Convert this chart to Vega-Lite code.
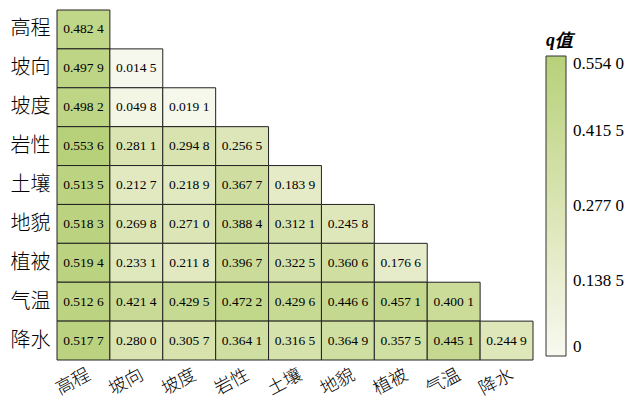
{
  "$schema": "https://vega.github.io/schema/vega-lite/v6.json",
  "autosize": {"type": "none"},
  "width": 476,
  "height": 350,
  "padding": {"left": 57, "top": 10, "right": 103, "bottom": 41},
  "background": "white",
  "view": {"stroke": null},
  "data": {
    "values": [
      {"row": "高程", "col": "高程", "q": 0.4824},
      {"row": "坡向", "col": "高程", "q": 0.4979},
      {"row": "坡向", "col": "坡向", "q": 0.0145},
      {"row": "坡度", "col": "高程", "q": 0.4982},
      {"row": "坡度", "col": "坡向", "q": 0.0498},
      {"row": "坡度", "col": "坡度", "q": 0.0191},
      {"row": "岩性", "col": "高程", "q": 0.5536},
      {"row": "岩性", "col": "坡向", "q": 0.2811},
      {"row": "岩性", "col": "坡度", "q": 0.2948},
      {"row": "岩性", "col": "岩性", "q": 0.2565},
      {"row": "土壤", "col": "高程", "q": 0.5135},
      {"row": "土壤", "col": "坡向", "q": 0.2127},
      {"row": "土壤", "col": "坡度", "q": 0.2189},
      {"row": "土壤", "col": "岩性", "q": 0.3677},
      {"row": "土壤", "col": "土壤", "q": 0.1839},
      {"row": "地貌", "col": "高程", "q": 0.5183},
      {"row": "地貌", "col": "坡向", "q": 0.2698},
      {"row": "地貌", "col": "坡度", "q": 0.2710},
      {"row": "地貌", "col": "岩性", "q": 0.3884},
      {"row": "地貌", "col": "土壤", "q": 0.3121},
      {"row": "地貌", "col": "地貌", "q": 0.2458},
      {"row": "植被", "col": "高程", "q": 0.5194},
      {"row": "植被", "col": "坡向", "q": 0.2331},
      {"row": "植被", "col": "坡度", "q": 0.2118},
      {"row": "植被", "col": "岩性", "q": 0.3967},
      {"row": "植被", "col": "土壤", "q": 0.3225},
      {"row": "植被", "col": "地貌", "q": 0.3606},
      {"row": "植被", "col": "植被", "q": 0.1766},
      {"row": "气温", "col": "高程", "q": 0.5126},
      {"row": "气温", "col": "坡向", "q": 0.4214},
      {"row": "气温", "col": "坡度", "q": 0.4295},
      {"row": "气温", "col": "岩性", "q": 0.4722},
      {"row": "气温", "col": "土壤", "q": 0.4296},
      {"row": "气温", "col": "地貌", "q": 0.4466},
      {"row": "气温", "col": "植被", "q": 0.4571},
      {"row": "气温", "col": "气温", "q": 0.4001},
      {"row": "降水", "col": "高程", "q": 0.5177},
      {"row": "降水", "col": "坡向", "q": 0.2800},
      {"row": "降水", "col": "坡度", "q": 0.3057},
      {"row": "降水", "col": "岩性", "q": 0.3641},
      {"row": "降水", "col": "土壤", "q": 0.3165},
      {"row": "降水", "col": "地貌", "q": 0.3649},
      {"row": "降水", "col": "植被", "q": 0.3575},
      {"row": "降水", "col": "气温", "q": 0.4451},
      {"row": "降水", "col": "降水", "q": 0.2449}
    ]
  },
  "transform": [
    {"calculate": "slice(format(datum.q, '.4f'), 0, 5) + ' ' + slice(format(datum.q, '.4f'), 5)", "as": "label"}
  ],
  "encoding": {
    "x": {
      "field": "col", "type": "nominal",
      "sort": ["高程", "坡向", "坡度", "岩性", "土壤", "地貌", "植被", "气温", "降水"],
      "scale": {"paddingInner": 0, "paddingOuter": 0},
      "axis": {
        "title": null, "domain": false, "ticks": false, "grid": false,
        "labelAngle": -28, "labelAlign": "center", "labelBaseline": "middle",
        "labelPadding": 22, "labelOffset": -10, "labelFont": "Noto Sans CJK SC", "labelFontSize": 18,
        "labelFontWeight": 300, "labelColor": "black"
      }
    },
    "y": {
      "field": "row", "type": "nominal",
      "sort": ["高程", "坡向", "坡度", "岩性", "土壤", "地貌", "植被", "气温", "降水"],
      "scale": {"paddingInner": 0, "paddingOuter": 0},
      "axis": {
        "title": null, "domain": false, "ticks": false, "grid": false,
        "labelPadding": 7, "labelFont": "Noto Sans CJK SC", "labelFontSize": 20,
        "labelFontWeight": 300, "labelColor": "black"
      }
    }
  },
  "layer": [
    {
      "mark": {"type": "rect", "stroke": "#222222", "strokeWidth": 1},
      "encoding": {
        "color": {
          "field": "q", "type": "quantitative",
          "scale": {"domain": [0, 0.554], "range": ["#f8f9f0", "#b6d179"]},
          "legend": {
            "orient": "none", "legendX": 489, "legendY": 22,
            "direction": "vertical",
            "title": "q值", "titleFont": "Liberation Serif", "titleFontSize": 18,
            "titleFontWeight": "bold", "titleFontStyle": "italic", "titleColor": "black",
            "titlePadding": 6, "titleAlign": "left",
            "gradientLength": 300, "gradientThickness": 20,
            "gradientStrokeColor": "#333333", "gradientStrokeWidth": 1,
            "values": [0, 0.1385, 0.277, 0.4155, 0.554],
            "labelExpr": "datum.value == 0 ? '0' : slice(format(datum.value, '.4f'), 0, 5) + ' ' + slice(format(datum.value, '.4f'), 5)",
            "labelFont": "Liberation Serif", "labelFontSize": 17, "labelColor": "black",
            "labelOffset": 7
          }
        }
      }
    },
    {
      "mark": {"type": "text", "font": "Liberation Serif", "fontSize": 13.5, "color": "black"},
      "encoding": {"text": {"field": "label"}}
    }
  ]
}
